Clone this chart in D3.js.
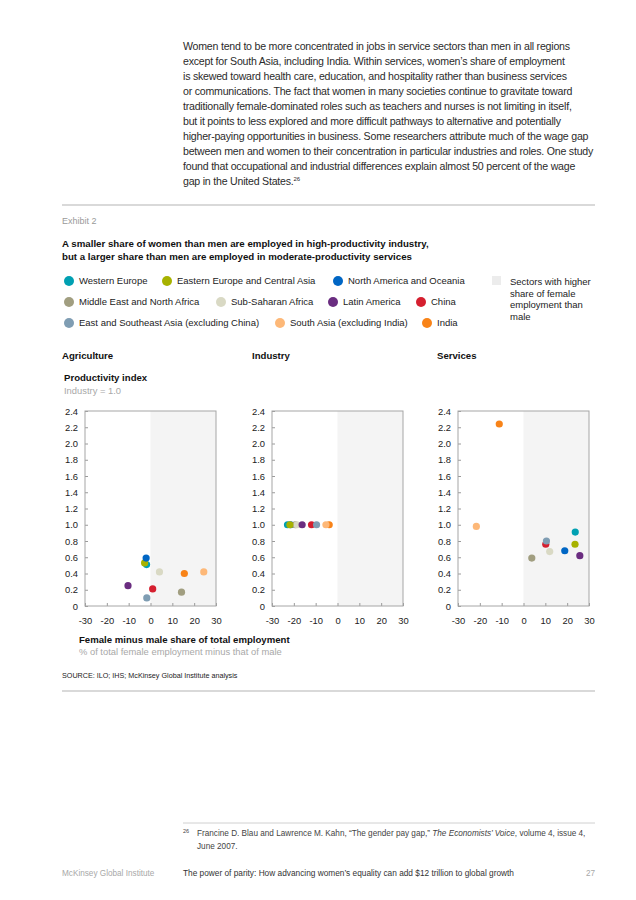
<!DOCTYPE html>
<html>
<head>
<meta charset="utf-8">
<script src="https://cdn.jsdelivr.net/npm/d3@7/dist/d3.min.js"></script>
<style>
  html, body { margin: 0; padding: 0; background: #fff; }
  svg { display: block; font-family: "Liberation Sans", Arial, Helvetica, sans-serif; }
</style>
</head>
<body>
<svg id="page" width="636" height="900"></svg>
<script>
// ---------- data ----------
const regions = [
  "Western Europe", "Eastern Europe and Central Asia", "North America and Oceania",
  "Middle East and North Africa", "Sub-Saharan Africa", "Latin America", "China",
  "East and Southeast Asia (excluding China)", "South Asia (excluding India)", "India"
];
const regionColors = [
  "#00a0b2", "#a7b200", "#0066c4",
  "#a19e80", "#d9d9c4", "#6a2d80", "#d51f2f",
  "#7f9db3", "#fdb878", "#f88318"
];
const sectors = ["Agriculture", "Industry", "Services"];
// female minus male share of total employment (x), by region, per sector
const agricultureX = [-1.8, -2.7, -2.0, 14.2, 4.1, -10.3, 1.0, -1.7, 24.4, 15.5];
const agricultureY = [0.51, 0.53, 0.59, 0.17, 0.42, 0.25, 0.21, 0.10, 0.42, 0.40];
const industryX = [-22.9, -21.8, -21.5, -19.3, -18.6, -16.2, -11.9, -9.6, -5.3, -3.8];
const industryY = [1.0, 1.0, 1.0, 1.0, 1.0, 1.0, 1.0, 1.0, 1.0, 1.0];
const servicesX = [23.7, 23.6, 18.9, 3.8, 12.0, 25.8, 10.2, 10.5, -21.6, -11.1];
const servicesY = [0.91, 0.76, 0.68, 0.59, 0.67, 0.62, 0.76, 0.80, 0.98, 2.24];
const xTicks = [-30, -20, -10, 0, 10, 20, 30];
const yTicks = [0, 0.2, 0.4, 0.6, 0.8, 1.0, 1.2, 1.4, 1.6, 1.8, 2.0, 2.2, 2.4];
const industryDrawOrder = [2, 3, 4, 0, 1, 5, 6, 7, 9, 8];

const paragraph = [
  "Women tend to be more concentrated in jobs in service sectors than men in all regions",
  "except for South Asia, including India. Within services, women’s share of employment",
  "is skewed toward health care, education, and hospitality rather than business services",
  "or communications. The fact that women in many societies continue to gravitate toward",
  "traditionally female-dominated roles such as teachers and nurses is not limiting in itself,",
  "but it points to less explored and more difficult pathways to alternative and potentially",
  "higher-paying opportunities in business. Some researchers attribute much of the wage gap",
  "between men and women to their concentration in particular industries and roles. One study",
  "found that occupational and industrial differences explain almost 50 percent of the wage",
  "gap in the United States."
];
const titleLines = [
  "A smaller share of women than men are employed in high-productivity industry,",
  "but a larger share than men are employed in moderate-productivity services"
];
const shadeNote = ["Sectors with higher", "share of female", "employment than", "male"];

// ---------- drawing ----------
const svg = d3.select("#page");
svg.append("rect").attr("width", 636).attr("height", 900).attr("fill", "#fff");

// paragraph
const para = svg.append("g").attr("fill", "#2b2b2b").style("font-size", "10.6px").style("letter-spacing", "-0.22px");
paragraph.forEach((line, i) => {
  const t = para.append("text").attr("x", 183).attr("y", 50 + i * 15).text(line);
  if (i === paragraph.length - 1) {
    t.append("tspan").attr("dy", -4).style("font-size", "6px").text("26");
  }
});

// rules
svg.append("line").attr("x1", 62).attr("x2", 595).attr("y1", 205).attr("y2", 205).attr("stroke", "#b3b3b3").attr("stroke-width", 1);
svg.append("line").attr("x1", 62).attr("x2", 595).attr("y1", 691).attr("y2", 691).attr("stroke", "#b3b3b3").attr("stroke-width", 1);

svg.append("text").attr("x", 62).attr("y", 224).attr("fill", "#9a9a9a").style("font-size", "9px").text("Exhibit 2");

const tg = svg.append("g").attr("fill", "#111").style("font-size", "9.7px").style("font-weight", "bold");
titleLines.forEach((l, i) => tg.append("text").attr("x", 62).attr("y", 247 + i * 13).text(l));

// legend
const legendPos = [
  [69, 281], [167, 281], [338, 281],
  [69, 302], [221, 302], [333, 302], [421, 302],
  [69, 323], [280, 323], [427, 323]
];
const lg = svg.append("g").style("font-size", "9.5px").attr("fill", "#222");
regions.forEach((r, i) => {
  const [cx, cy] = legendPos[i];
  lg.append("circle").attr("cx", cx).attr("cy", cy).attr("r", 5).attr("fill", regionColors[i]);
  lg.append("text").attr("x", cx + 10).attr("y", cy + 3.3).text(r);
});
lg.append("rect").attr("x", 492).attr("y", 276).attr("width", 9).attr("height", 9).attr("fill", "#ececec");
shadeNote.forEach((l, i) => lg.append("text").attr("x", 510).attr("y", 285 + i * 11.5).text(l));

// panel titles
const sectorTitleX = [62, 252, 437];
sectors.forEach((s, i) => {
  svg.append("text").attr("x", sectorTitleX[i]).attr("y", 359).attr("fill", "#111")
    .style("font-size", "9.6px").style("font-weight", "bold").text(s);
});
svg.append("text").attr("x", 64).attr("y", 381).attr("fill", "#111").style("font-size", "9.6px").style("font-weight", "bold").text("Productivity index");
svg.append("text").attr("x", 64).attr("y", 394).attr("fill", "#a8a8a8").style("font-size", "9.4px").text("Industry = 1.0");

// panels
const panelLeft = [85, 272, 458];
const panelW = 131, plotTop = 411, plotBottom = 606;
const sectorX = [agricultureX, industryX, servicesX];
const sectorY = [agricultureY, industryY, servicesY];
const y = d3.scaleLinear().domain([0, 2.4]).range([plotBottom, plotTop]);

sectors.forEach((s, p) => {
  const x = d3.scaleLinear().domain([-30, 30]).range([panelLeft[p], panelLeft[p] + panelW]);
  const g = svg.append("g");
  g.append("rect").attr("x", x(0)).attr("y", plotTop).attr("width", x(30) - x(0)).attr("height", plotBottom - plotTop).attr("fill", "#f4f4f4");

  // y axis (inward ticks)
  const ya = g.append("g").attr("transform", `translate(${x(-30)},0)`)
    .call(d3.axisRight(y).tickValues(yTicks).tickSize(3).tickFormat(v => v === 0 ? "0" : v.toFixed(1)));
  ya.select(".domain").remove();
  ya.selectAll(".tick line").attr("stroke", "#9a9a9a");
  ya.selectAll(".tick text").attr("x", -7).attr("text-anchor", "end").attr("fill", "#222")
    .style("font-size", "9.4px").style("font-family", "\"Liberation Sans\", Arial, sans-serif");

  // x axis (inward ticks)
  const xa = g.append("g").attr("transform", `translate(0,${plotBottom})`)
    .call(d3.axisTop(x).tickValues(xTicks).tickSize(3).tickFormat(v => String(v)));
  xa.select(".domain").remove();
  xa.selectAll(".tick line").attr("stroke", "#9a9a9a");
  xa.selectAll(".tick text").attr("y", 18).attr("dy", 0).attr("fill", "#222")
    .style("font-size", "9.4px").style("font-family", "\"Liberation Sans\", Arial, sans-serif");

  g.append("rect").attr("x", x(-30)).attr("y", plotTop).attr("width", panelW).attr("height", plotBottom - plotTop)
    .attr("fill", "none").attr("stroke", "#a6a6a6").attr("stroke-width", 1);

  const order = p === 1 ? industryDrawOrder : d3.range(regions.length);
  g.selectAll("circle.pt").data(order).enter().append("circle").attr("class", "pt")
    .attr("cx", i => x(sectorX[p][i])).attr("cy", i => y(sectorY[p][i]))
    .attr("r", 3.6).attr("fill", i => regionColors[i]);
});

svg.append("text").attr("x", 79).attr("y", 643).attr("fill", "#111").style("font-size", "9.6px").style("font-weight", "bold").text("Female minus male share of total employment");
svg.append("text").attr("x", 79).attr("y", 655).attr("fill", "#a8a8a8").style("font-size", "9.4px").text("% of total female employment minus that of male");

svg.append("text").attr("x", 62).attr("y", 678).attr("fill", "#222").style("font-size", "7.2px").text("SOURCE: ILO; IHS; McKinsey Global Institute analysis");

// footnote
svg.append("line").attr("x1", 183).attr("x2", 595).attr("y1", 823).attr("y2", 823).attr("stroke", "#c4c4c4").attr("stroke-width", 0.8);
const fn = svg.append("g").attr("fill", "#444").style("font-size", "8.2px");
fn.append("text").attr("x", 183).attr("y", 833).style("font-size", "5.5px").text("26");
const fl = fn.append("text").attr("x", 197).attr("y", 836);
fl.append("tspan").text("Francine D. Blau and Lawrence M. Kahn, “The gender pay gap,” ");
fl.append("tspan").style("font-style", "italic").text("The Economists’ Voice");
fl.append("tspan").text(", volume 4, issue 4,");
fn.append("text").attr("x", 197).attr("y", 849).text("June 2007.");

// footer
svg.append("text").attr("x", 62).attr("y", 876).attr("fill", "#a8a8a8").style("font-size", "8.2px").text("McKinsey Global Institute");
svg.append("text").attr("x", 183).attr("y", 876).attr("fill", "#333").style("font-size", "8.3px").text("The power of parity: How advancing women’s equality can add $12 trillion to global growth");
svg.append("text").attr("x", 595).attr("y", 876).attr("text-anchor", "end").attr("fill", "#a8a8a8").style("font-size", "8.2px").text("27");
</script>
</body>
</html>
